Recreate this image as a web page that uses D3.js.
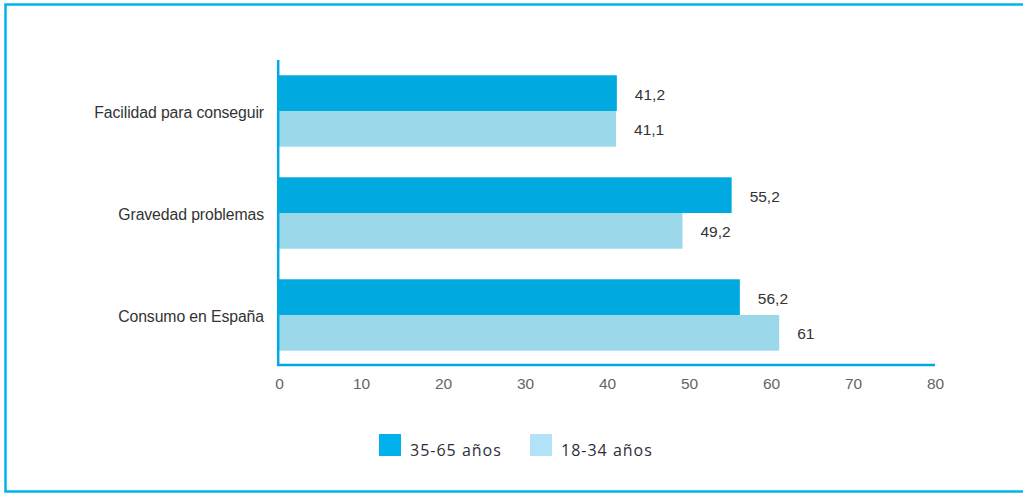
<!DOCTYPE html>
<html><head><meta charset="utf-8">
<script src="https://cdn.jsdelivr.net/npm/d3@7"></script>
<style>html,body{margin:0;padding:0;background:#fff;}svg{display:block;}</style>
</head><body>
<script>
const categories = ["Facilidad para conseguir", "Gravedad problemas", "Consumo en España"];
const seriesNames = ["35-65 años", "18-34 años"];
const values3565 = [41.2, 55.2, 56.2];
const values1834 = [41.1, 49.2, 61];
const valueLabels3565 = ["41,2", "55,2", "56,2"];
const valueLabels1834 = ["41,1", "49,2", "61"];
const xTicks = [0, 10, 20, 30, 40, 50, 60, 70, 80];

const W = 1023, H = 493;
const barColors = ["#00a9df", "#9bd9ea"];
const legendColors = ["#00b1ec", "#b3e3f8"];
const axisColor = "#00a9df";
const labelFont = "'Liberation Sans', Arial, sans-serif";

const svg = d3.select("body").append("svg").attr("width", W).attr("height", H);

// frame
svg.append("path")
  .attr("d", `M${W + 5},4.5 H5.5 V491.5 H${W + 5}`)
  .attr("fill", "none").attr("stroke", "#00b4ec").attr("stroke-width", 2.5);

const x = d3.scaleLinear().domain([0, 80]).range([279, 935]);
const y = d3.scaleBand().domain(categories).range([60, 366]).paddingInner(0.3).paddingOuter(0.15);
const sub = d3.scaleBand().domain([0, 1]).range([0, y.bandwidth()]);

const data = categories.map((c, i) => ({
  cat: c,
  vals: [
    { s: 0, v: values3565[i], lbl: valueLabels3565[i] },
    { s: 1, v: values1834[i], lbl: valueLabels1834[i] }
  ]
}));

const g = svg.append("g");
const groups = g.selectAll("g.grp").data(data).join("g")
  .attr("transform", d => `translate(0,${y(d.cat)})`);

groups.selectAll("rect").data(d => d.vals).join("rect")
  .attr("x", x(0))
  .attr("y", d => sub(d.s))
  .attr("width", d => x(d.v) - x(0))
  .attr("height", sub.bandwidth())
  .attr("fill", d => barColors[d.s]);

groups.selectAll("text.val").data(d => d.vals).join("text")
  .attr("class", "val")
  .attr("x", d => x(d.v) + 18)
  .attr("y", d => sub(d.s) + sub.bandwidth() / 2 + 1)
  .attr("dy", "0.35em")
  .attr("font-family", labelFont)
  .attr("font-size", 15.5)
  .attr("fill", "#333")
  .text(d => d.lbl);

// category labels
g.selectAll("text.cat").data(categories).join("text")
  .attr("class", "cat")
  .attr("x", 264)
  .attr("y", d => y(d) + y.bandwidth() / 2 + 1)
  .attr("dy", "0.35em")
  .attr("text-anchor", "end")
  .attr("font-family", labelFont)
  .attr("font-size", 15.8)
  .attr("letter-spacing", -0.1)
  .attr("fill", "#333")
  .text(d => d);

// x axis
const xAxis = d3.axisBottom(x).tickValues(xTicks).tickSize(0).tickPadding(13).tickFormat(d3.format("d"));
const ax = svg.append("g").attr("transform", "translate(0,365)").call(xAxis);
ax.select(".domain").remove();
ax.selectAll("text")
  .attr("font-family", labelFont)
  .attr("font-size", 15.5)
  .attr("fill", "#666");

// axis lines
svg.append("line").attr("x1", 277).attr("x2", 935).attr("y1", 365).attr("y2", 365)
  .attr("stroke", axisColor).attr("stroke-width", 2.5);
svg.append("line").attr("x1", 278.2).attr("x2", 278.2).attr("y1", 60).attr("y2", 366)
  .attr("stroke", axisColor).attr("stroke-width", 2.5);

// legend
const legendX = [379, 530];
const lg = svg.selectAll("g.leg").data(seriesNames).join("g")
  .attr("transform", (d, i) => `translate(${legendX[i]},434)`);
lg.append("rect").attr("width", 22).attr("height", 22).attr("fill", (d, i) => legendColors[i]);
lg.append("text").attr("x", 31).attr("y", 22)
  .attr("font-family", "'Open Sans', 'Noto Sans', sans-serif")
  .attr("font-size", 16)
  .attr("letter-spacing", 1)
  .attr("fill", "#2e2e3a")
  .text(d => d);
</script>
</body></html>
